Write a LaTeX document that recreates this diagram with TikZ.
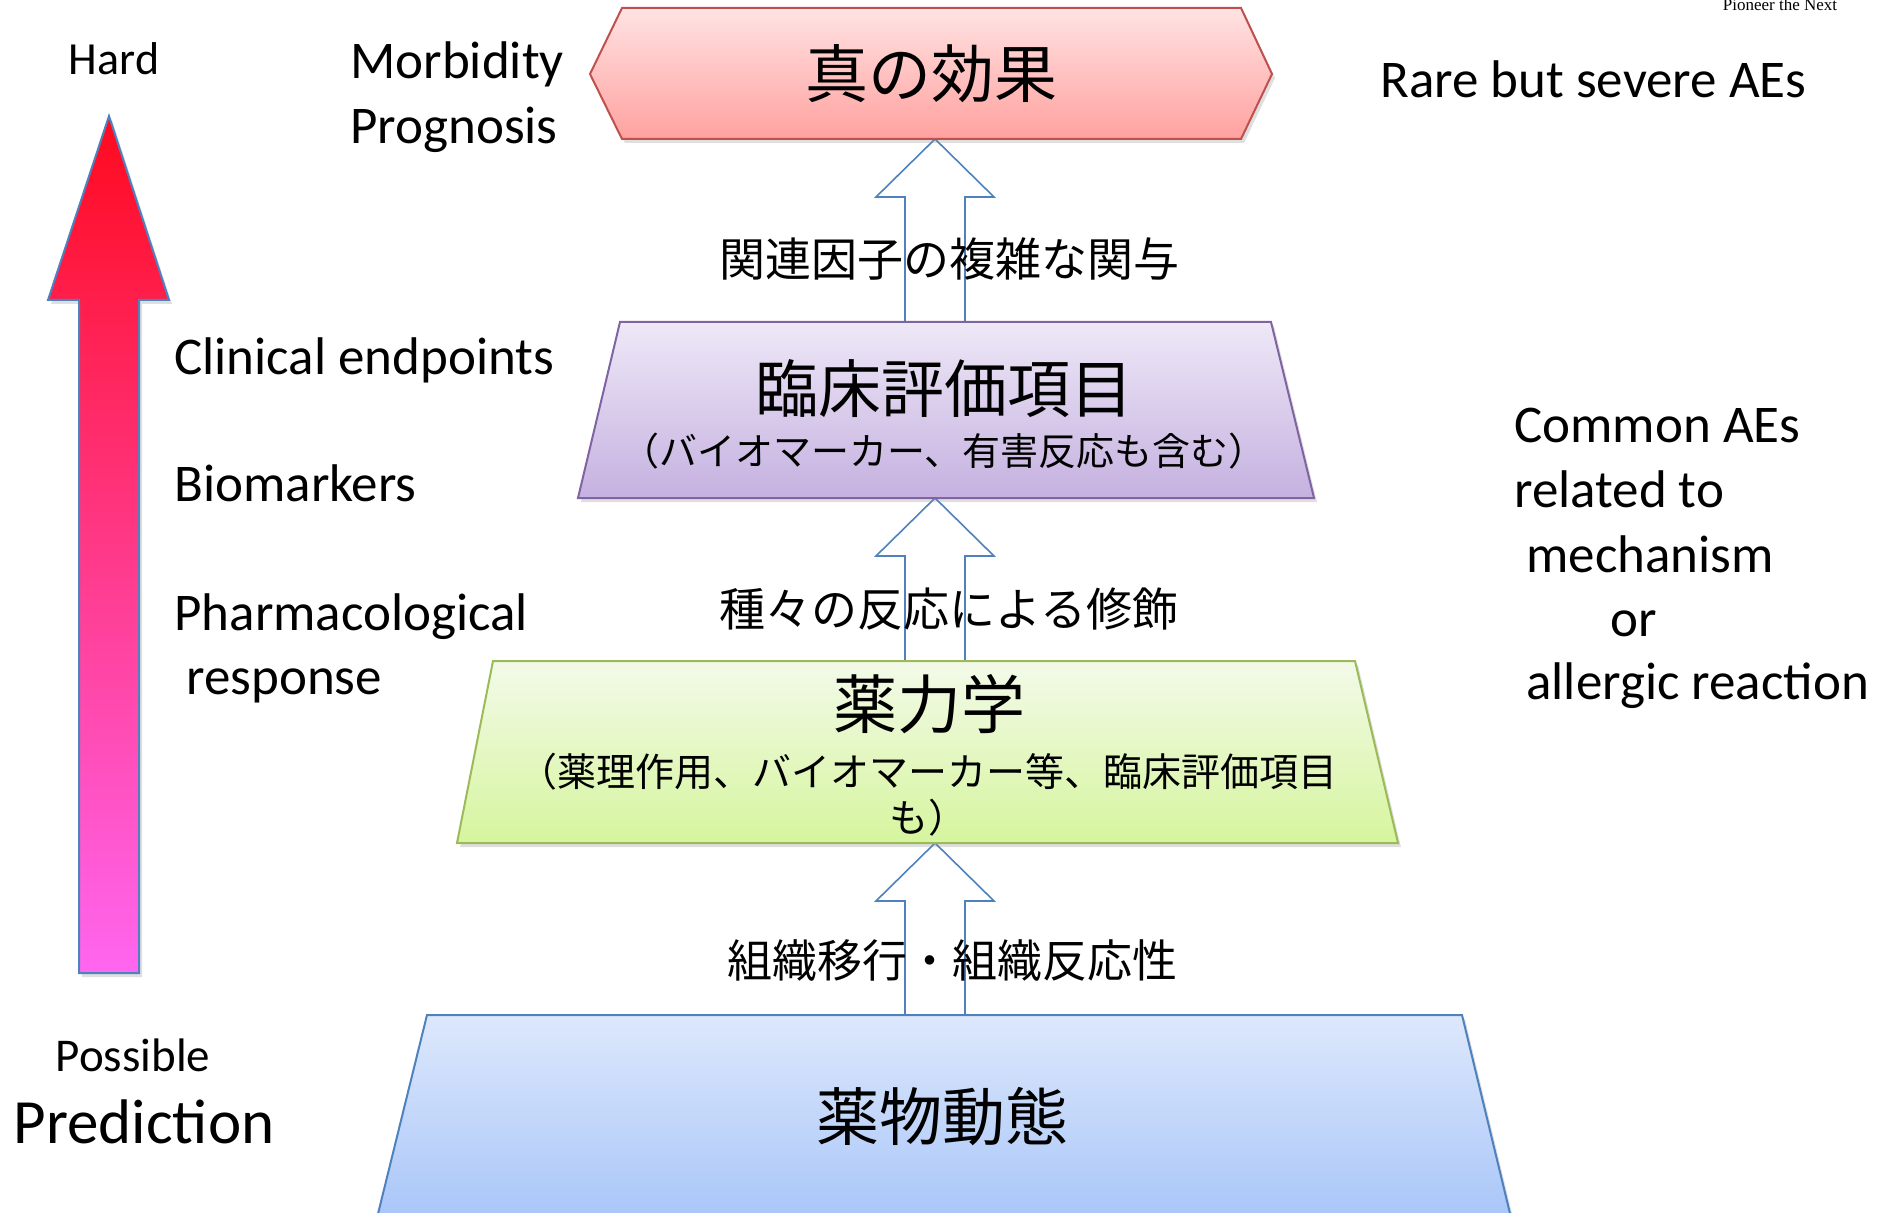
\documentclass[tikz,border=0pt]{standalone}
\usepackage{fontspec}
\setmainfont{Carlito}
\newfontfamily\jp{Noto Sans CJK JP}
\newfontfamily\serifx{Liberation Serif}
\usetikzlibrary{calc,shadows}
\definecolor{redline}{HTML}{C0504D}
\definecolor{redtop}{HTML}{FFE3E3}
\definecolor{redbot}{HTML}{FFA19F}
\definecolor{purline}{HTML}{8064A2}
\definecolor{purtop}{HTML}{EEE8F7}
\definecolor{purbot}{HTML}{C5B1E0}
\definecolor{grnline}{HTML}{9BBB59}
\definecolor{grntop}{HTML}{F3FAE9}
\definecolor{grnbot}{HTML}{D6F59E}
\definecolor{bluline}{HTML}{4F81BD}
\definecolor{blutop}{HTML}{DDE8FC}
\definecolor{blubot}{HTML}{A6C4F8}
\definecolor{arrtop}{HTML}{FF0A1E}
\definecolor{arrmid}{HTML}{FF3C9A}
\definecolor{arrbot}{HTML}{FF66F0}
\newcommand{\hollowarrow}[2]{%
  \draw[hollow] ($(#1)+(-30,0)$) -- ($(#2)+(-30,58)$) -- ($(#2)+(-59,58)$) -- (#2)
    -- ($(#2)+(59,58)$) -- ($(#2)+(30,58)$) -- ($(#1)+(30,0)$) -- cycle;}
\begin{document}
\begin{tikzpicture}[x=0.5pt,y=-0.5pt,
  shp/.style={line width=1pt, drop shadow={opacity=0.25,shadow xshift=1.5pt,shadow yshift=-2pt}},
  hollow/.style={draw=bluline, line width=0.8pt, fill=white, line join=miter},
  en/.style={font=\fontsize{26.5}{30}\selectfont, anchor=west, inner sep=0pt, text height=0.7em, text depth=0.2em},
  jpbig/.style={font=\jp\fontsize{31.5}{36}\selectfont, inner sep=0pt},
  jpmid/.style={font=\jp\fontsize{23}{27}\selectfont, inner sep=0pt},
  jpsmall/.style={font=\jp\fontsize{19.5}{23}\selectfont, inner sep=0pt, align=center}
]
\useasboundingbox (0,0) rectangle (1877,1213);

% connection points on the shapes
\coordinate (truB) at (935,139);
\coordinate (purT) at (935,322);
\coordinate (purB) at (935,498);
\coordinate (grnT) at (935,661);
\coordinate (grnB) at (935,843);
\coordinate (bluT) at (935,1015);

% hollow block arrows
\hollowarrow{purT}{truB}
\hollowarrow{grnT}{purB}
\hollowarrow{bluT}{grnB}

% shapes
\draw[shp, draw=redline, top color=redtop, bottom color=redbot]
  (590,74) -- (622,8) -- (1241,8) -- (1272,74) -- (1241,139) -- (622,139) -- cycle;
\draw[shp, draw=purline, top color=purtop, bottom color=purbot]
  (620,322) -- (1271,322) -- (1314,498) -- (578,498) -- cycle;
\draw[shp, draw=grnline, top color=grntop, bottom color=grnbot]
  (493,661) -- (1355,661) -- (1398,843) -- (457,843) -- cycle;
\draw[shp, draw=bluline, top color=blutop, bottom color=blubot]
  (427,1015) -- (1462,1015) -- (1514,1230) -- (374,1230) -- cycle;

% left gradient arrow
\draw[shp, draw=bluline, top color=arrtop, middle color=arrmid, bottom color=arrbot]
  (109,116) -- (169,300) -- (139,300) -- (139,973) -- (79,973) -- (79,300) -- (48,300) -- cycle;

% Japanese texts
\node[jpbig] (tru) at (931,74) {真の効果};
\node[jpmid] (l1) at (949,259) {関連因子の複雑な関与};
\node[jpbig] (pur) at (944,389) {臨床評価項目};
\node[font=\jp\fontsize{19}{23}\selectfont, inner sep=0pt] (pur2) at (944,451) {（バイオマーカー、有害反応も含む）};
\node[jpsmall] (grn2) at (928,795) {（薬理作用、バイオマーカー等、臨床評価項目\\も）};
\node[font=\jp\fontsize{32}{36}\selectfont, inner sep=0pt] (grn) at (929,704) {薬力学};
\node[font=\jp\fontsize{22.5}{27}\selectfont, inner sep=0pt] (l3) at (952,961) {組織移行・組織反応性};
\node[jpbig] (blu) at (942,1117) {薬物動態};
\node[jpmid] (l2) at (949,609) {種々の反応による修飾};

% English texts
\node[font=\fontsize{23}{27}\selectfont, inner sep=0pt] (hard) at (114,59) {Hard};
\node[en] (morb) at (350,74) {Morbidity};
\node[en] (prog) at (350,139) {Prognosis};
\node[en] (rare) at (1380,93) {Rare but severe AEs};
\node[en] (clin) at (174,370) {Clinical endpoints};
\node[en] (bio) at (174,497) {Biomarkers};
\node[en] (phar) at (174,625) {Pharmacological};
\node[en] (resp) at (174,689) {\ response};
\node[en] (com1) at (1514,438) {Common AEs};
\node[en] (com2) at (1514,503) {related to};
\node[en] (com3) at (1526,567) {mechanism};
\node[en] (com4) at (1610,631) {or};
\node[en] (com5) at (1526,694) {allergic reaction};
\node[font=\fontsize{23.5}{27}\selectfont, inner sep=0pt] (poss) at (133,1055) {Possible};
\node[font=\fontsize{31.5}{36}\selectfont, inner sep=0pt] (pred) at (144,1122) {Prediction};
\node[font=\serifx\fontsize{8.5}{10}\selectfont, inner sep=0pt, anchor=base] (pion) at (1780,11) {Pioneer the Next};
\end{tikzpicture}
\end{document}
